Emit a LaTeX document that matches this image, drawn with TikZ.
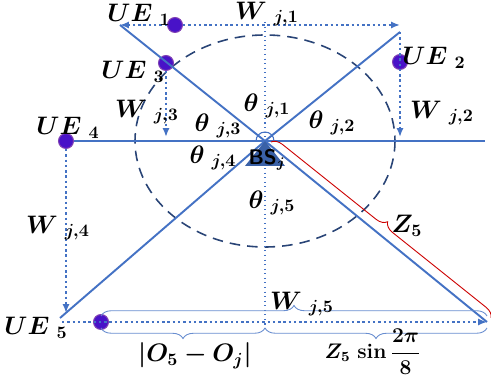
\documentclass[tikz,border=0pt]{standalone}
\usepackage{amsmath}
\usepackage{bm}
\usetikzlibrary{arrows.meta,decorations.pathreplacing,positioning}
\definecolor{lnblue}{RGB}{68,114,196}
\definecolor{uefill}{RGB}{72,18,200}
\definecolor{ueedge}{RGB}{128,64,180}
\tikzset{
  ray/.style={lnblue,line width=1.1pt},
  wlink/.style={lnblue,line width=1.2pt,dash pattern=on 1.4pt off 1.6pt,-{Latex[length=5pt,width=4pt]}},
  uedot/.style={circle,fill=uefill,draw=ueedge,line width=0.6pt,inner sep=0pt,minimum size=8.5pt},
  lbl/.style={font=\Large,inner sep=1pt},
  bracebl/.style={lnblue!80,line width=0.5pt,decorate,decoration={brace,amplitude=6pt}},
}
\begin{document}
\begin{tikzpicture}[x=0.02cm,y=-0.02cm]
\useasboundingbox (0,0) rectangle (491,381);
\coordinate (bs) at (265,141);
\coordinate (e1) at (120,25);
\coordinate (e2) at (400,32);
\coordinate (e3) at (485,141);
\coordinate (e4) at (60,318);
\coordinate (e5) at (487,322);
\coordinate (w1) at (400,25);
\coordinate (w2) at (400,137);
\coordinate (w3) at (166,137);
\coordinate (w4) at (66,313);
\coordinate (w5) at (62,322);
\draw[lnblue!60!black,line width=0.9pt,dash pattern=on 6pt off 4pt] (bs) ellipse [x radius=130,y radius=106];
\draw[lnblue,line width=0.6pt,dotted] (265,22) -- (265,332);
\foreach \n/\x/\y in {1/175/25,2/400/62,3/166/63,4/66/141,5/101/322}
  \node[uedot] (ue\n) at (\x,\y) {};
\foreach \e in {e1,e2,e4,e5}
  \draw[ray] (bs) -- (\e);
\draw[ray] (ue4) -- (e3);
\draw[lnblue,line width=0.6pt] (274,141) arc[start angle=0,end angle=-180,radius=9];
\fill[lnblue!85!black] (bs) -- (245,166) -- (285,166) -- cycle;
\node[font=\large\sffamily\bfseries,inner sep=0pt] (bsl) at (267,160) {BS$_{\bm j}$};
\draw[wlink] (ue1) -- (e1);
\draw[wlink] (ue1) -- (w1);
\draw[wlink] (e2) -- (w2);
\draw[wlink] (ue3) -- (w3);
\draw[wlink] (ue4) -- (w4);
\draw[wlink] (w5) -- (e5);
\draw[red!80!black,line width=0.5pt,decorate,decoration={brace,amplitude=6pt}] (271,142) -- (491,318);
\draw[bracebl] (101,316) -- (487,316);
\draw[bracebl] (265,328) -- (101,328);
\draw[bracebl] (487,328) -- (265,328);
\foreach \n/\x/\y in {1/139/15,2/434/58,3/133/72,4/68/128,5/36/328}
  \node[lbl] (ut\n) at (\x,\y) {$\bm{UE}\;_{\bm\n}$};
\foreach \n/\x/\y in {1/267/106,2/332/123,3/218/126,4/213/158,5/272/203}
  \node[lbl] (th\n) at (\x,\y) {$\bm\theta\;_{\bm{j,\n}}$};
\foreach \n/\x/\y in {1/267/14,2/442/113,3/147/112,4/58/228,5/302/304}
  \node[lbl] (wt\n) at (\x,\y) {$\bm W\;_{\bm{j,\n}}$};
\node[lbl] (zl) at (407,226) {$\bm{Z_5}$};
\node[lbl] (ol) at (195,356) {$\bm{|O_5-O_j|}$};
\node[font=\large,inner sep=1pt] (sl) at (373,352) {$\bm{Z_5}\ \textbf{sin}\,\bm{\dfrac{2\pi}{8}}$};
\end{tikzpicture}
\end{document}
